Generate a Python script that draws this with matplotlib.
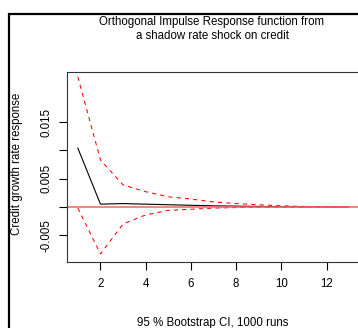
import numpy as np
import matplotlib.pyplot as plt
from matplotlib.patches import Rectangle

# impulse response horizons and values
horizon = np.arange(1, 14)
irf = [0.0104, 0.0005, 0.0006, 0.0005, 0.0004, 0.0003, 0.0002,
       0.00015, 0.0001, 0.00005, 0.00003, 0.00002, 0.00001]
upper = [0.0230, 0.0083, 0.0039, 0.0027, 0.0018, 0.0014, 0.0009,
         0.0006, 0.0004, 0.0002, 0.0001, 0.00005, 0.00002]
lower = [-0.0002, -0.0083, -0.0030, -0.0014, -0.0006, -0.0004, -0.0002,
         -0.0001, -0.00005, -0.00003, -0.00002, -0.00001, 0.0]

xticks = [2, 4, 6, 8, 10, 12]
yticks = [-0.005, 0.0, 0.005, 0.010, 0.015]
ylabels = ['-0.005', '', '0.005', '', '0.015']

plt.rcParams['font.family'] = 'Liberation Sans'
fs = 8.3

W, H = 358, 328
fig = plt.figure(figsize=(W / 100, H / 100), dpi=100)
fig.patch.set_facecolor('white')

# outer frame of the (cropped) R device
fig.add_artist(Rectangle((9 / W, -0.1), 1.2, 1 - 14 / H + 0.1, transform=fig.transFigure,
                         fill=False, edgecolor='black', linewidth=1.6))

ax = fig.add_axes([67 / W, 1 - 262 / H, (360 - 67) / W, (262 - 72) / H])
ax.plot(horizon, irf, color='black', linewidth=0.8)
ax.plot(horizon, upper, color='red', linewidth=0.75, dashes=(4, 4))
ax.plot(horizon, lower, color='red', linewidth=0.75, dashes=(4, 4))
ax.axhline(0, color='#ff6060', linewidth=1.1)

ax.set_xlim(0.52, 13.48)
ax.set_ylim(-0.00972, 0.02385)
ax.set_xticks(xticks)
ax.set_xticklabels([str(t) for t in xticks], fontsize=fs)
ax.set_yticks(yticks)
ax.set_yticklabels(ylabels, fontsize=fs, rotation=90, va='center')
ax.tick_params(length=5.5, width=0.8)
ax.tick_params(axis='x', pad=6)
ax.tick_params(axis='y', pad=5)
for s in ax.spines.values():
    s.set_linewidth(0.8)
    s.set_color('#333333')

fig.text(212 / W, 1 - 22 / H, 'Orthogonal Impulse Response function from',
         ha='center', va='center', fontsize=fs)
fig.text(212 / W, 1 - 36 / H, 'a shadow rate shock on credit',
         ha='center', va='center', fontsize=fs)
fig.text(17 / W, 1 - 164 / H, 'Credit growth rate response', rotation=90,
         ha='center', va='center', fontsize=fs)
fig.text(213 / W, 1 - 323 / H, '95 % Bootstrap CI, 1000 runs',
         ha='center', va='center', fontsize=fs)

fig.savefig('out.png', dpi=100)
